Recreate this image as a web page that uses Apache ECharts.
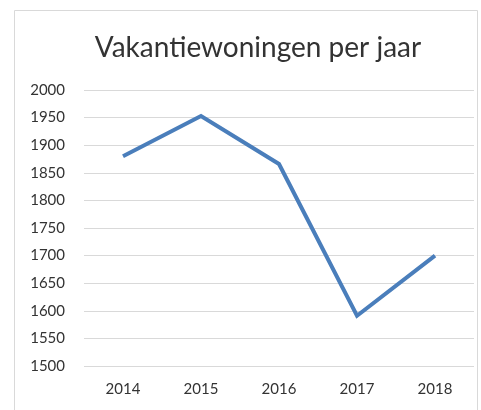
<!DOCTYPE html>
<html>
<head>
<meta charset="utf-8">
<script src="https://cdn.jsdelivr.net/npm/echarts@6/dist/echarts.min.js"></script>
<style>
html, body { margin: 0; padding: 0; background: #fff; }
#chart { width: 481px; height: 410px; }
</style>
</head>
<body>
<div id="chart"></div>
<script>
var years  = ['2014', '2015', '2016', '2017', '2018'];
var counts = [1880, 1953, 1866, 1591, 1700];

var chart = echarts.init(document.getElementById('chart'));
var option = {
    animation: false,
    textStyle: { fontFamily: 'Lato, "Open Sans", sans-serif' },
    title: {
        text: 'Vakantiewoningen per jaar',
        left: 253,
        textAlign: 'center',
        top: 29,
        textStyle: { fontSize: 28, fontWeight: 'normal', color: '#333', fontFamily: 'Lato, sans-serif' }
    },
    graphic: [{
        type: 'rect',
        shape: { x: 14.5, y: 10.5, width: 463, height: 420 },
        style: { fill: 'none', stroke: '#d9d9d9', lineWidth: 1 }
    }],
    grid: { left: 84, right: 7, top: 90, bottom: 44 },
    xAxis: {
        type: 'category',
        data: years,
        boundaryGap: true,
        axisLine: { show: false },
        axisTick: { show: false },
        axisLabel: { color: '#333', fontSize: 15, margin: 16 }
    },
    yAxis: {
        type: 'value',
        min: 1500,
        max: 2000,
        interval: 50,
        axisLine: { show: false },
        axisTick: { show: false },
        axisLabel: { color: '#333', fontSize: 15, margin: 19, formatter: function (v) { return String(v); } },
        splitLine: { lineStyle: { color: '#d9d9d9', width: 1 } }
    },
    series: [{
        type: 'line',
        data: counts,
        symbol: 'none',
        lineStyle: { color: '#4a7ebb', width: 4, join: 'miter' }
    }]
};
chart.setOption(option);
</script>
</body>
</html>
